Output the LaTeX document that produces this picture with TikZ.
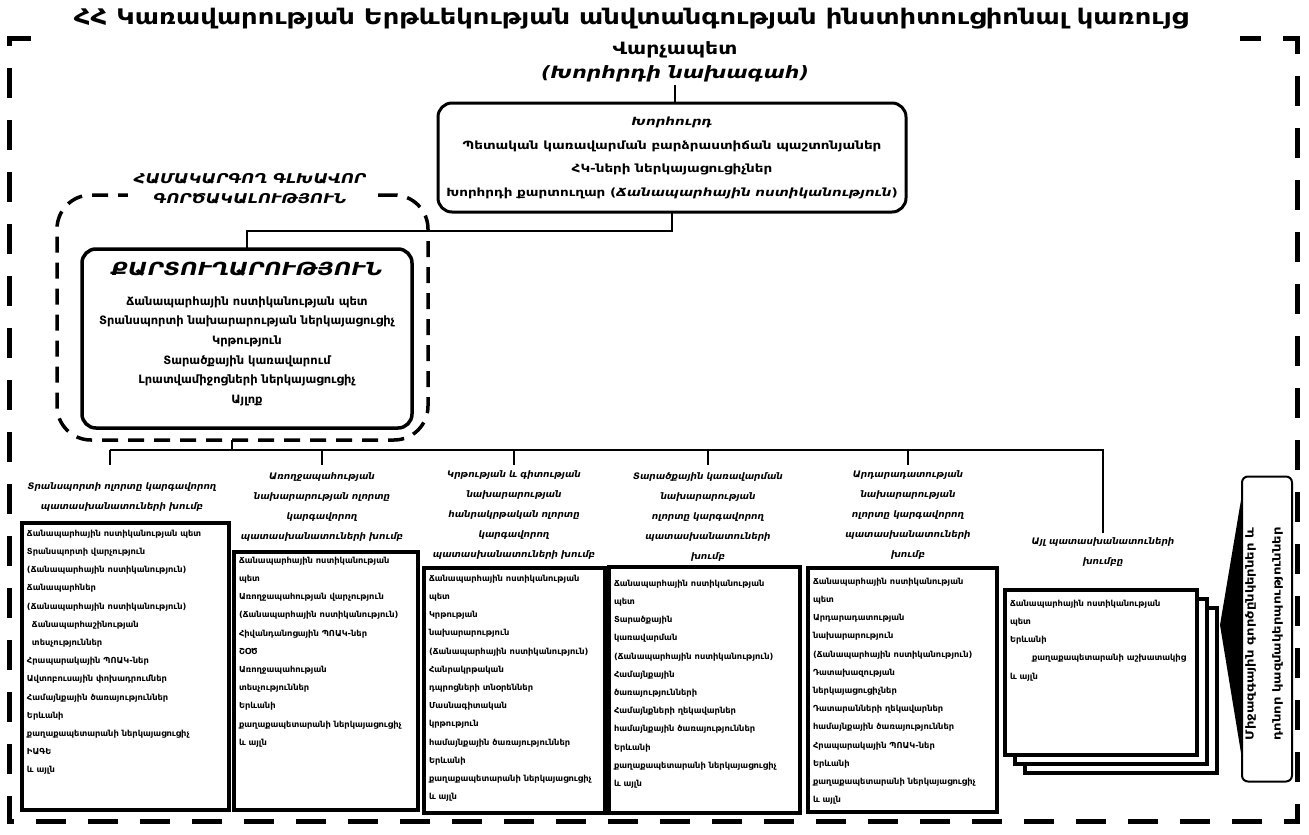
\documentclass[tikz,border=0pt]{standalone}
\usepackage{fontspec}
\setmainfont{DejaVu Sans}
\newfontfamily\armw{DejaVu Sans}[FakeStretch=1.2]
\usetikzlibrary{calc}
\tikzset{
  base/.style={inner sep=0pt, outer sep=0pt},
  frame/.style={base, draw, line width=3pt, rounded corners=14pt},
  grpbox/.style={base, draw, line width=3.5pt, dash pattern=on 16pt off 10pt, rounded corners=34pt},
  member/.style={base, draw, line width=3.5pt, fill=white, anchor=north west},
  listtext/.style={base, anchor=north west, align=left, font=\bfseries\fontsize{8.3}{18.2}\selectfont},
  grphead/.style={base, anchor=north, align=center, font=\bfseries\itshape\fontsize{9}{20}\selectfont},
  conn/.style={line width=2.8pt},
  outerframe/.style={line width=5pt, dash pattern=on 30pt off 22pt},
}
\begin{document}
\begin{tikzpicture}[x=1pt,y=-1pt]
\useasboundingbox (0,0) rectangle (1309,835);
\draw[outerframe] (31,38) -- (9,38) -- (9,821) -- (1297,821) -- (1297,38) -- (1240,38);

\node[base, font=\armw\bfseries\fontsize{21.5}{26}\selectfont] (title) at (631,19) {ՀՀ Կառավարության Երթևեկության անվտանգության ինստիտուցիոնալ կառույց};

\node[base, align=center, font=\armw\bfseries\fontsize{17}{24}\selectfont] (pm) at (675,62) {Վարչապետ\\{\itshape (Խորհրդի նախագահ)}};

\node[frame, minimum width=468pt, minimum height=109pt] (council) at (672,157.5) {};
\node[base, align=center, font=\armw\bfseries\fontsize{11.3}{23.5}\selectfont] (counciltext) at (672,158) {{\itshape Խորհուրդ}\\ Պետական կառավարման բարձրաստիճան պաշտոնյաներ\\ ՀԿ-ների ներկայացուցիչներ\\ Խորհրդի քարտուղար ({\itshape Ճանապարհային ոստիկանություն})};
\draw[conn] ([yshift=-3pt]pm.south) -- (pm.south |- council.north);

\node[grpbox, minimum width=371pt, minimum height=245pt] (grp) at (242.5,317.5) {};
\node[base, fill=white, inner xsep=6pt, inner ysep=2pt, align=center, font=\armw\bfseries\itshape\fontsize{13.5}{20}\selectfont] (grplabel) at (250,189) {ՀԱՄԱԿԱՐԳՈՂ ԳԼԽԱՎՈՐ\\ԳՈՐԾԱԿԱԼՈՒԹՅՈՒՆ};

\node[frame, line width=3.5pt, minimum width=330pt, minimum height=179pt] (sec) at (247,338.5) {};
\node[base, align=center, font=\bfseries\fontsize{11.5}{19.6}\selectfont] (sectext) at (247,334) {{\armw\itshape\fontsize{18}{22}\selectfont ՔԱՐՏՈՒՂԱՐՈՒԹՅՈՒՆ}\\[10pt] Ճանապարհային ոստիկանության պետ\\ Տրանսպորտի նախարարության ներկայացուցիչ\\ Կրթություն\\ Տարածքային կառավարում\\ Լրատվամիջոցների ներկայացուցիչ\\ Այլոք};

\coordinate (j1) at (672,231);
\draw[conn] (council.south) -- (council.south |- j1) -| (sec.north);

% group heads
\node[grphead] (h1) at (122,483) {Տրանսպորտի ոլորտը կարգավորող\\պատասխանատուների խումբ};
\node[grphead] (h2) at (322,473) {Առողջապահության\\նախարարության ոլորտը\\կարգավորող\\պատասխանատուների խումբ};
\node[grphead] (h3) at (514,471) {Կրթության և գիտության\\նախարարության\\հանրակրթական ոլորտը\\կարգավորող\\պատասխանատուների խումբ};
\node[grphead] (h4) at (708,473) {Տարածքային կառավարման\\նախարարության\\ոլորտը կարգավորող\\պատասխանատուների\\խումբ};
\node[grphead] (h5) at (908,471) {Արդարադատության\\նախարարության\\ոլորտը կարգավորող\\պատասխանատուների\\խումբ};
\node[grphead] (h6) at (1103,538) {Այլ պատասխանատուների\\խումբը};

\coordinate (bus) at (232,450);
\draw[conn] (bus |- grp.south) -- (bus);
\draw[conn] (110,450) -- (h6.north |- bus) -- ([yshift=5pt]h6.north);
\draw[conn] (110,450) -- ++(0,15);
\foreach \h in {h2,h3,h4,h5}{\draw[conn] (\h.north |- bus) -- ++(0,15);}

% member boxes
\node[member, minimum width=207pt, minimum height=287pt] (b1) at (22,523) {};
\node[member, minimum width=184pt, minimum height=258pt] (b2) at (234,552) {};
\node[member, minimum width=181pt, minimum height=245pt] (b3) at (424,568) {};
\node[member, minimum width=191pt, minimum height=246pt] (b4) at (609,567) {};
\node[member, minimum width=189pt, minimum height=244pt] (b5) at (808,568) {};
\node[member, minimum width=192pt, minimum height=165pt] (b6c) at (1025,608) {};
\node[member, minimum width=192pt, minimum height=165pt] (b6b) at (1015,599) {};
\node[member, minimum width=192pt, minimum height=165pt] (b6) at (1005,590) {};

\node[listtext] (t1) at (27,530) {Ճանապարհային ոստիկանության պետ\\ Տրանսպորտի վարչություն\\ (Ճանապարհային ոստիկանություն)\\ Ճանապարհներ\\ (Ճանապարհային ոստիկանություն)\\ \hspace*{5pt}Ճանապարհաշինության\\ \hspace*{5pt}տեսչություններ\\ Հրապարակային ՊՈԱԿ-ներ\\ Ավտոբուսային փոխադրումներ\\ Համայնքային ծառայություններ\\ Երևանի\\ քաղաքապետարանի ներկայացուցիչ\\ ԻԱԳԵ\\ և այլն};
\node[listtext] (t2) at (239,557) {Ճանապարհային ոստիկանության\\ պետ\\ Առողջապահության վարչություն\\ (Ճանապարհային ոստիկանություն)\\ Հիվանդանոցային ՊՈԱԿ-ներ\\ ՇՕԾ\\ Առողջապահության\\ տեսչություններ\\ Երևանի\\ քաղաքապետարանի ներկայացուցիչ\\ և այլն};
\node[listtext] (t3) at (429,575) {Ճանապարհային ոստիկանության\\ պետ\\ Կրթության\\ նախարարություն\\ (Ճանապարհային ոստիկանություն)\\ Հանրակրթական\\ դպրոցների տնօրեններ\\ Մասնագիտական\\ կրթություն\\ համայնքային ծառայություններ\\ Երևանի\\ քաղաքապետարանի ներկայացուցիչ\\ և այլն};
\node[listtext] (t4) at (614,580) {Ճանապարհային ոստիկանության\\ պետ\\ Տարածքային\\ կառավարման\\ (Ճանապարհային ոստիկանություն)\\ Համայնքային\\ ծառայությունների\\ Համայնքների ղեկավարներ\\ համայնքային ծառայություններ\\ Երևանի\\ քաղաքապետարանի ներկայացուցիչ\\ և այլն};
\node[listtext] (t5) at (813,578) {Ճանապարհային ոստիկանության\\ պետ\\ Արդարադատության\\ նախարարություն\\ (Ճանապարհային ոստիկանություն)\\ Դատախազության\\ ներկայացուցիչներ\\ Դատարանների ղեկավարներ\\ համայնքային ծառայություններ\\ Հրապարակային ՊՈԱԿ-ներ\\ Երևանի\\ քաղաքապետարանի ներկայացուցիչ\\ և այլն};
\node[listtext] (t6) at (1010,600) {Ճանապարհային ոստիկանության\\ պետ\\ Երևանի\\ \hspace*{22pt}քաղաքապետարանի աշխատակից\\ և այլն};

% side box
\node[base, draw, line width=2pt, rounded corners=6pt, minimum width=50pt, minimum height=305pt] (side) at (1267,629) {};
\node[base, rotate=90, align=center, font=\armw\bfseries\fontsize{11}{27}\selectfont] (sidetext) at (1264,634) {Միջազգային գործընկերներ և\\դոնոր կազմակերպություններ};
\fill ($(side.west)+(0,-135)$) -- ($(side.west)+(-22,-4)$) -- ($(side.west)+(0,130)$) -- cycle;
\end{tikzpicture}
\end{document}
